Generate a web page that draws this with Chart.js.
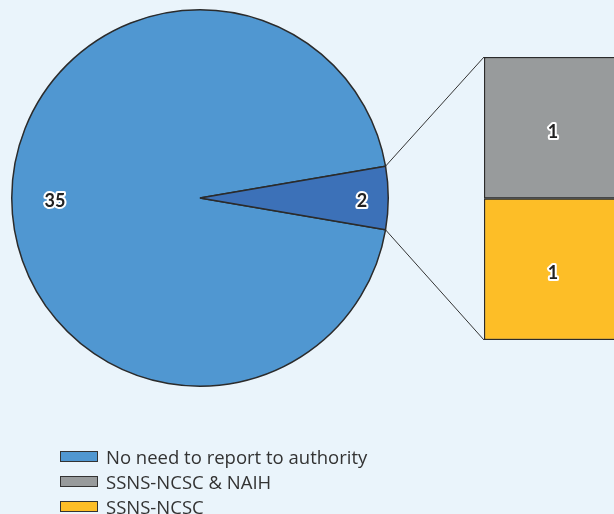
<!DOCTYPE html>
<html>
<head>
<meta charset="utf-8">
<script src="https://cdn.jsdelivr.net/npm/chart.js@4.4.0/dist/chart.umd.min.js"></script>
<style>
    body { margin: 0; background: #eaf4fb; width: 614px; height: 514px; overflow: hidden; position: relative; font-family: "Open Sans", Lato, sans-serif; }
    canvas { position: absolute; left: 0; top: 0; }
    #legend { position: absolute; left: 60px; top: 444px; }
    .row { height: 25px; display: flex; align-items: center; font-size: 18.5px; color: #333; white-space: nowrap; }
    .box { width: 36px; height: 9px; border: 1px solid #333; margin-right: 8px; }
</style>
</head>
<body>
<canvas id="pieChart" width="614" height="514"></canvas>
<canvas id="barChart" width="700" height="514"></canvas>
<div id="legend"></div>
<script>
//Data
const pieLabels = ['No need to report to authority', 'Reported to authority'];
const pieValues = [35, 2];
const barLabels = ['SSNS-NCSC', 'SSNS-NCSC & NAIH'];
const barValues = [1, 1];

const blue = '#5097d1';
const darkBlue = '#3c71b8';
const gray = '#989b9c';
const yellow = '#fdbe27';
const edge = '#2b2b2b';

//Number labels: dark text with white halo
function drawLabel(ctx, text, x, y) {
    ctx.save();
    ctx.font = 'bold 18px Lato, sans-serif';
    ctx.textAlign = 'center';
    ctx.textBaseline = 'middle';
    ctx.lineJoin = 'round';
    ctx.lineWidth = 4;
    ctx.strokeStyle = '#fff';
    ctx.strokeText(text, x, y);
    ctx.fillStyle = '#222';
    ctx.fillText(text, x, y);
    ctx.restore();
}

const pieLabelPlugin = {
    id: 'pieLabelPlugin',
    afterDatasetsDraw(chart, args, opts) {
        const meta = chart.getDatasetMeta(0);
        meta.data.forEach((arc, i) => {
            const mid = (arc.startAngle + arc.endAngle) / 2;
            const r = arc.outerRadius * opts.radius[i];
            drawLabel(chart.ctx, String(pieValues[i]), arc.x + Math.cos(mid) * r, arc.y + 3 + Math.sin(mid) * r);
        });
    }
};

//Pie Chart
const total = pieValues.reduce((a, b) => a + b, 0);
const pieChart = new Chart(document.getElementById('pieChart'), {
    type: 'pie',
    data: {
        labels: pieLabels,
        datasets: [{
            data: pieValues,
            backgroundColor: [blue, darkBlue],
            borderColor: edge,
            borderWidth: 1.5,
        }]
    },
    options: {
        responsive: false,
        animation: false,
        rotation: 90 + pieValues[1] / total * 180,
        layout: { padding: { left: 11, top: 9, right: 225, bottom: 127 } },
        plugins: {
            legend: { display: false },
            tooltip: { enabled: false },
            pieLabelPlugin: { radius: [0.77, 0.86] },
        },
    },
    plugins: [pieLabelPlugin],
});

//Bar labels and connector lines to the small slice
const barExtras = {
    id: 'barExtras',
    afterDatasetsDraw(chart) {
        const ctx = chart.ctx;
        const slice = pieChart.getDatasetMeta(0).data[1];
        const bottomBar = chart.getDatasetMeta(0).data[0];
        const topBar = chart.getDatasetMeta(1).data[0];
        const left = topBar.x - topBar.width / 2;
        ctx.save();
        ctx.strokeStyle = '#333';
        ctx.lineWidth = 1;
        ctx.beginPath();
        ctx.moveTo(slice.x + Math.cos(slice.startAngle) * slice.outerRadius, slice.y + Math.sin(slice.startAngle) * slice.outerRadius);
        ctx.lineTo(left, topBar.y);
        ctx.moveTo(slice.x + Math.cos(slice.endAngle) * slice.outerRadius, slice.y + Math.sin(slice.endAngle) * slice.outerRadius);
        ctx.lineTo(left, bottomBar.base);
        ctx.stroke();
        ctx.restore();
        chart.data.datasets.forEach((ds, i) => {
            const bar = chart.getDatasetMeta(i).data[0];
            drawLabel(ctx, String(ds.data[0]), bar.x, (bar.y + bar.base) / 2 + 4);
        });
    }
};

//Stacked Bar Chart
const barChart = new Chart(document.getElementById('barChart'), {
    type: 'bar',
    data: {
        labels: [''],
        datasets: [{
            label: barLabels[0],
            data: [barValues[0]],
            backgroundColor: yellow,
        }, {
            label: barLabels[1],
            data: [barValues[1]],
            backgroundColor: gray,
        }]
    },
    options: {
        responsive: false,
        animation: false,
        datasets: { bar: { barPercentage: 1, categoryPercentage: 1, borderColor: edge, borderWidth: 1.5, borderSkipped: false } },
        layout: { padding: { left: 484, top: 57, right: 78, bottom: 174 } },
        scales: {
            x: { stacked: true, display: false },
            y: { stacked: true, display: false, min: 0, max: barValues[0] + barValues[1] },
        },
        plugins: {
            legend: { display: false },
            tooltip: { enabled: false },
        },
    },
    plugins: [barExtras],
});

//Legend
const legendItems = [[pieLabels[0], blue], [barLabels[1], gray], [barLabels[0], yellow]];
document.getElementById('legend').innerHTML = legendItems.map(([text, color]) =>
    `<div class="row"><span class="box" style="background:${color}"></span>${text}</div>`).join('');
</script>
</body>
</html>
